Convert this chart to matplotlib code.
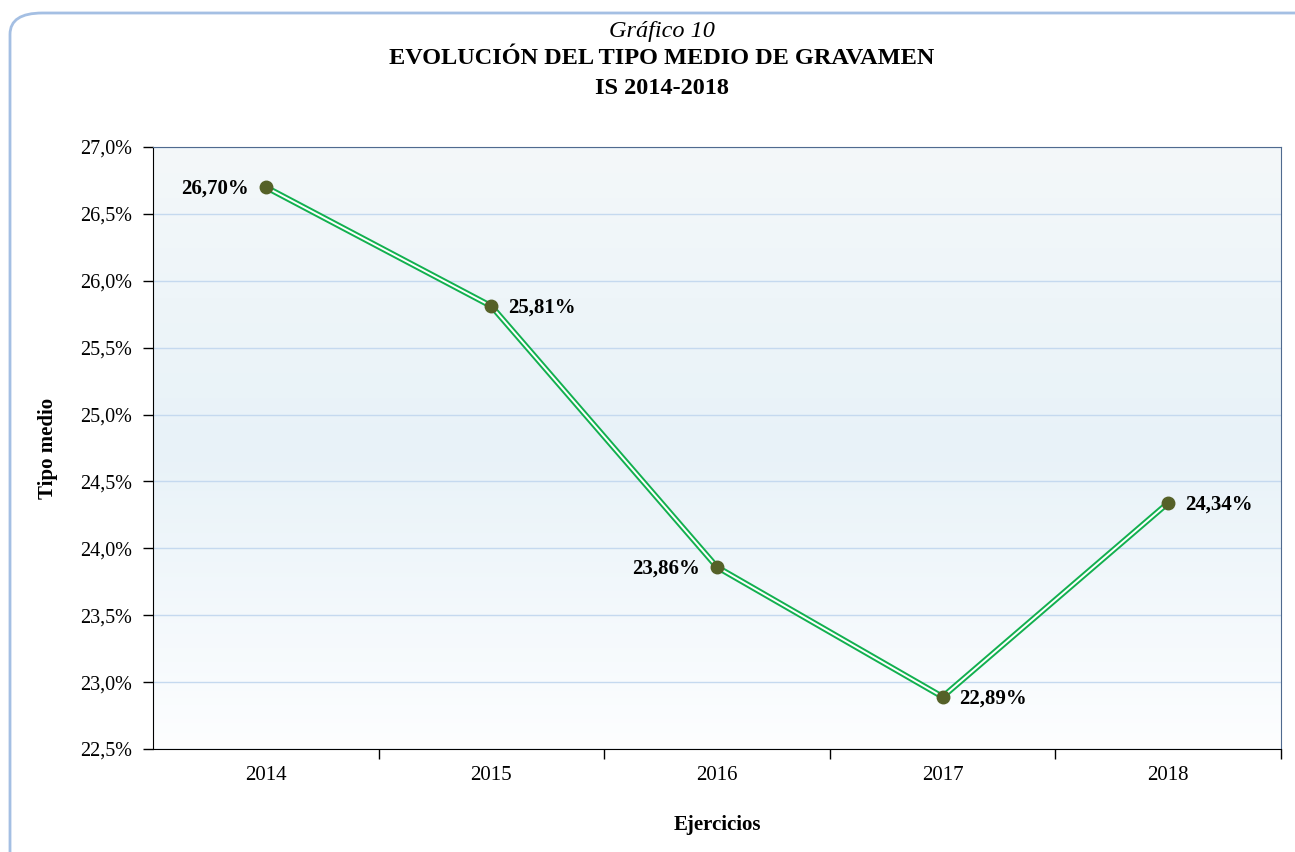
import numpy as np
import matplotlib.pyplot as plt
from matplotlib.patches import FancyBboxPatch
from matplotlib.ticker import FixedLocator, FuncFormatter
from matplotlib.colors import LinearSegmentedColormap

# data
years = ['2014', '2015', '2016', '2017', '2018']
tipo = [26.70, 25.81, 23.86, 22.89, 24.34]
label_side = ['left', 'right', 'left', 'right', 'right']

plt.rcParams['font.family'] = ['Liberation Serif', 'DejaVu Serif']

fig = plt.figure(figsize=(12.95, 8.52), dpi=100)

# rounded frame around the chart (runs off the right and bottom edges)
frame = FancyBboxPatch((10 / 1295, -0.2), 1.2, 1.2 - 13 / 852,
                       boxstyle='round,pad=0,rounding_size=0.025',
                       transform=fig.transFigure, fill=False,
                       edgecolor='#a4bfe3', linewidth=2.0)
fig.patches.append(frame)

ax = fig.add_axes([153 / 1295, 1 - 749 / 852, 1128 / 1295, 602 / 852])

# background gradient
cmap = LinearSegmentedColormap.from_list('bg', ['#fdfeff', '#e8f2f8', '#f4f8fa'])
ax.imshow(np.linspace(0, 1, 256).reshape(-1, 1), aspect='auto', cmap=cmap,
          extent=(-0.5, 4.5, 22.5, 27.0), origin='lower', zorder=0)

x = np.arange(len(years))
ax.set_xlim(-0.5, 4.5)
ax.set_ylim(22.5, 27.0)

ax.yaxis.set_major_locator(FixedLocator(np.arange(22.5, 27.01, 0.5)))
ax.yaxis.set_major_formatter(FuncFormatter(lambda v, p: f'{v:.1f}%'.replace('.', ',')))
ax.grid(axis='y', color='#c5d9ef', linewidth=1.0, zorder=1)

ax.set_xticks(x)
ax.set_xticklabels(years)
ax.set_xticks(np.arange(0.5, 5, 1), minor=True)
ax.tick_params(axis='x', which='major', length=0, pad=12, labelsize=15)
ax.tick_params(axis='x', which='minor', length=7, width=1, direction='out')
ax.tick_params(axis='y', length=7, width=1, direction='out', labelsize=14.5, pad=8)

for s in ['top', 'right']:
    ax.spines[s].set_color('#4f6a8f')
for s in ['left', 'bottom']:
    ax.spines[s].set_color('black')

# double line
ax.plot(x, tipo, color='#12b04f', linewidth=4.2, zorder=3, solid_capstyle='butt')
ax.plot(x, tipo, color='white', linewidth=1.4, zorder=4, solid_capstyle='butt')
ax.plot(x, tipo, linestyle='', marker='o', markersize=9, color='#556128', zorder=5)

for xi, yi, side in zip(x, tipo, label_side):
    txt = f'{yi:.2f}%'.replace('.', ',')
    if side == 'left':
        ax.annotate(txt, (xi, yi), xytext=(-12, -1), textcoords='offset points',
                    ha='right', va='center', fontsize=15, fontweight='bold')
    else:
        ax.annotate(txt, (xi, yi), xytext=(12, -1), textcoords='offset points',
                    ha='left', va='center', fontsize=15, fontweight='bold')

ax.set_ylabel('Tipo medio', fontsize=15, fontweight='bold', labelpad=16)
ax.set_xlabel('Ejercicios', fontsize=15, fontweight='bold', labelpad=22)

fig.text(0.511, 1 - 31 / 852, 'Gráfico 10', ha='center', va='center',
         fontsize=17.5, style='italic')
fig.text(0.511, 1 - 59 / 852, 'EVOLUCIÓN DEL TIPO MEDIO DE GRAVAMEN', ha='center',
         va='center', fontsize=17.5, fontweight='bold')
fig.text(0.511, 1 - 88 / 852, 'IS 2014-2018', ha='center', va='center',
         fontsize=17.5, fontweight='bold')

fig.savefig('out.png', dpi=100)
